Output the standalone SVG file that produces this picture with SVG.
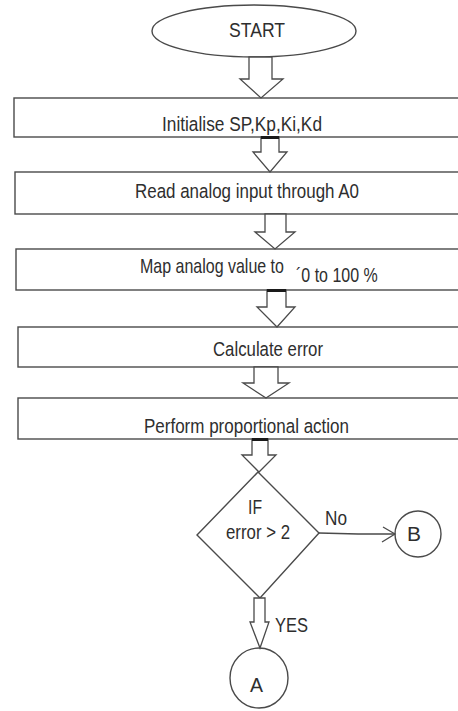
<svg xmlns="http://www.w3.org/2000/svg" width="458" height="711" viewBox="0 0 458 711">
<style>
  .shape { fill: #ffffff; stroke: #4a4a4a; stroke-width: 1.4; }
  .arrow { fill: #ffffff; stroke: #4a4a4a; stroke-width: 1.3; stroke-linejoin: miter; }
  .line { fill: none; stroke: #4a4a4a; stroke-width: 1.3; }
  .cap { stroke: #1a1a1a; stroke-width: 3; }
  .t { font-family: "Liberation Sans", Arial, sans-serif; font-size: 20.5px; fill: #2e2e2e; }
</style>
<rect width="458" height="711" fill="#ffffff"/>

<g id="start">
  <ellipse class="shape" cx="254" cy="31" rx="102" ry="26"/>
  <text class="t" x="229" y="37" textLength="56" lengthAdjust="spacingAndGlyphs">START</text>
</g>

<g id="init">
  <rect class="shape" x="14" y="98" width="460" height="39"/>
  <text class="t" x="162" y="131" textLength="160" lengthAdjust="spacingAndGlyphs">Initialise SP,Kp,Ki,Kd</text>
</g>

<g id="read">
  <rect class="shape" x="15" y="172" width="460" height="42"/>
  <text class="t" x="135" y="198" textLength="224" lengthAdjust="spacingAndGlyphs">Read analog input through A0</text>
</g>

<g id="map">
  <rect class="shape" x="16" y="249" width="460" height="41"/>
  <text class="t" transform="translate(140 273) scale(0.78 1)">Map analog value to</text>
  <text class="t" transform="translate(296 282) scale(0.78 1)">´0 to 100 %</text>
</g>

<g id="calc">
  <rect class="shape" x="18" y="327" width="460" height="40"/>
  <text class="t" x="213" y="356" textLength="110" lengthAdjust="spacingAndGlyphs">Calculate error</text>
</g>

<g id="perform">
  <rect class="shape" x="18" y="398" width="460" height="41"/>
  <text class="t" x="144" y="433" textLength="205" lengthAdjust="spacingAndGlyphs">Perform proportional action</text>
</g>

<g id="decision">
  <polygon class="shape" points="258,472 319,533 260,598 197,535"/>
  <text class="t" x="248" y="514" textLength="14" lengthAdjust="spacingAndGlyphs">IF</text>
  <text class="t" x="226" y="539" textLength="64" lengthAdjust="spacingAndGlyphs">error &gt; 2</text>
</g>

<g id="connB">
  <circle class="shape" cx="418" cy="534" r="23"/>
  <text class="t" x="407" y="541" textLength="14" lengthAdjust="spacingAndGlyphs">B</text>
</g>

<g id="connA">
  <ellipse class="shape" cx="259" cy="678" rx="29" ry="30"/>
  <text class="t" x="250" y="692" textLength="13" lengthAdjust="spacingAndGlyphs">A</text>
</g>

<g id="connectors">
  <polygon class="arrow" points="249,57 272,57 272,79 283,79 261,98 240,79 249,79"/>
  <polygon class="arrow" points="261,137 279,137 279,152 287,152 270,172 253,152 261,152"/>
  <line class="cap" x1="261" y1="137.5" x2="279" y2="137.5"/>
  <polygon class="arrow" points="265,214 286,214 286,232 295,232 275,249 255,232 265,232"/>
  <polygon class="arrow" points="267,290 286,290 286,307 295,307 277,327 257,307 267,307"/>
  <line class="cap" x1="267" y1="290.5" x2="286" y2="290.5"/>
  <polygon class="arrow" points="254,367 278,367 278,383 289,383 266,398 243,383 254,383"/>
  <polygon class="arrow" points="252,439 268,439 268,455 276,455 259,472 242,455 252,455"/>
  <line class="cap" x1="252" y1="439.5" x2="268" y2="439.5"/>
  <polyline class="line" points="319,533 358,534 395,534"/>
  <polyline class="line" points="383,527 395,534 382,542"/>
  <text class="t" x="325" y="525" textLength="22" lengthAdjust="spacingAndGlyphs">No</text>
  <polygon class="arrow" points="254,598 265,598 265,622 269,622 260,648 250,622 254,622"/>
  <text class="t" x="275" y="632" textLength="33" lengthAdjust="spacingAndGlyphs">YES</text>
</g>
</svg>
